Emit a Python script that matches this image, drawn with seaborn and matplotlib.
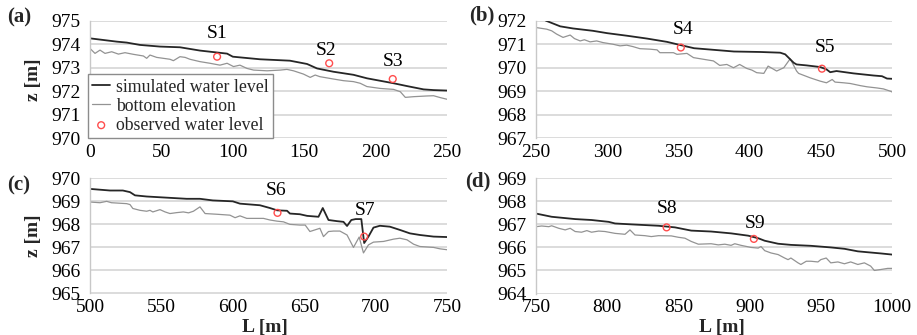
import numpy as np
import pandas as pd
import matplotlib
matplotlib.use("Agg")
import matplotlib.pyplot as plt
import seaborn as sns

# simulated water level, per panel (L [m], z [m])
sim_a_L = [0, 18.7, 25.7, 35, 49, 63, 77, 96, 100, 119, 140, 152, 159, 170.5, 184.5, 194, 212.6, 222, 233.6, 240.6, 250]
sim_a_z = [974.25, 974.11, 974.07, 973.97, 973.9, 973.87, 973.73, 973.6, 973.47, 973.36, 973.3, 973.16, 972.97, 972.83, 972.7, 972.55, 972.34, 972.22, 972.08, 972.05, 972.03]
sim_b_L = [250, 257, 267, 276, 290, 300, 314, 328, 342, 351, 361, 375, 389, 407.5, 421.5, 425, 427, 431, 433, 440, 449.6, 454, 456.6, 461, 473, 487, 493, 496.5, 500]
sim_b_z = [972.25, 972.0, 971.76, 971.67, 971.57, 971.47, 971.36, 971.24, 971.1, 970.97, 970.83, 970.76, 970.69, 970.67, 970.64, 970.57, 970.45, 970.21, 970.14, 970.1, 970.03, 969.93, 969.81, 969.86, 969.76, 969.67, 969.64, 969.54, 969.53]
sim_c_L = [500, 514, 523, 528, 531.5, 539.7, 553.7, 567.7, 577, 586, 600, 605, 619, 626, 631, 638, 640, 647, 652, 660, 663, 667, 673, 677.5, 680, 683, 686, 690, 692, 695, 698.5, 703, 710, 717, 724, 731, 740.6, 750]
sim_c_z = [969.54, 969.47, 969.47, 969.4, 969.26, 969.21, 969.16, 969.11, 969.11, 969.04, 969.0, 968.9, 968.83, 968.71, 968.61, 968.59, 968.47, 968.44, 968.37, 968.33, 968.71, 968.19, 968.14, 968.11, 967.93, 968.19, 968.23, 968.23, 967.19, 967.47, 967.86, 967.94, 967.9, 967.76, 967.61, 967.54, 967.47, 967.45]
sim_d_L = [750, 761, 777.5, 789, 801, 805.5, 817, 836, 847.6, 859, 873, 887, 899, 906, 910.6, 920, 929, 943, 957, 966.6, 976, 983, 992, 1000]
sim_d_z = [967.47, 967.33, 967.23, 967.19, 967.11, 967.04, 967.0, 966.94, 966.87, 966.73, 966.69, 966.61, 966.51, 966.4, 966.29, 966.16, 966.11, 966.07, 966.0, 965.94, 965.83, 965.79, 965.74, 965.69]

# bottom elevation, per panel
bed_a_L = [0, 3.5, 7, 10.5, 15.2, 19.9, 24.5, 30.4, 37.4, 39.7, 42, 46.7, 51.4, 56, 58.4, 63, 66.6, 70, 77, 84, 91, 96, 100.5, 105, 110, 114.6, 124, 133.2, 137.9, 142.5, 149.5, 154.2, 157.7, 161, 170.5, 177.5, 184.5, 189.2, 193.9, 203.3, 212.6, 217.3, 220.8, 226.7, 236, 240.6, 245.3, 250]
bed_a_z = [973.82, 973.61, 973.75, 973.61, 973.68, 973.58, 973.64, 973.57, 973.5, 973.4, 973.54, 973.44, 973.4, 973.36, 973.3, 973.47, 973.44, 973.36, 973.26, 973.19, 973.11, 973.19, 973.05, 973.11, 972.97, 972.9, 972.87, 972.9, 972.93, 972.87, 972.73, 972.59, 972.69, 972.62, 972.52, 972.45, 972.41, 972.34, 972.2, 972.12, 972.08, 971.98, 971.74, 971.77, 971.8, 971.81, 971.73, 971.66]
bed_b_L = [250, 257.5, 261, 264.5, 269, 274, 277, 281, 284, 288, 292.6, 297, 304, 309, 313.7, 318, 323, 330, 335, 337, 346.5, 349, 356, 360.6, 367.6, 374.6, 379, 384, 388.7, 393, 398, 401.6, 405, 410, 413, 419, 424, 428.5, 433, 434.4, 442.6, 449.6, 454, 458, 460, 466, 470.7, 477.7, 482.4, 489.5, 494, 499, 500]
bed_b_z = [971.71, 971.64, 971.57, 971.43, 971.29, 971.39, 971.24, 971.14, 971.19, 971.1, 971.14, 971.07, 971.0, 970.93, 970.96, 970.9, 970.81, 970.79, 970.76, 970.64, 970.64, 970.57, 970.61, 970.43, 970.36, 970.29, 970.1, 970.14, 970.0, 970.14, 969.97, 969.9, 969.79, 969.76, 970.07, 969.86, 970.0, 970.38, 969.86, 969.76, 969.57, 969.43, 969.36, 969.5, 969.39, 969.36, 969.33, 969.24, 969.19, 969.14, 969.1, 969.0, 968.97]
bed_c_L = [500, 507, 511.7, 515, 525.7, 528, 530, 535, 539.7, 542, 544, 549, 552.6, 556, 560.7, 565.4, 569, 572.4, 577, 580.6, 588.8, 598, 601.6, 605, 609.8, 621.5, 626, 631, 635.5, 640, 647, 650.7, 654, 659, 661, 663.5, 667, 670.5, 675, 680, 684.5, 688.5, 691.5, 695, 698.5, 705.6, 712.6, 717, 722, 726.6, 731, 740.6, 745, 750]
bed_c_z = [968.97, 968.94, 969.0, 968.94, 968.9, 968.86, 968.69, 968.61, 968.57, 968.61, 968.54, 968.64, 968.54, 968.47, 968.51, 968.54, 968.5, 968.57, 968.76, 968.47, 968.44, 968.4, 968.29, 968.37, 968.26, 968.26, 968.19, 968.14, 968.11, 968.0, 967.97, 967.97, 967.69, 967.79, 967.83, 967.47, 967.69, 967.71, 967.71, 967.54, 967.0, 967.45, 966.76, 967.11, 967.23, 967.26, 967.36, 967.4, 967.33, 967.14, 967.04, 967.0, 966.94, 966.9]
bed_d_L = [750, 754, 759, 761, 766, 770.5, 774, 777.5, 782, 785.7, 789, 794, 798.5, 805.5, 812.5, 816, 819.5, 826.5, 831, 836, 845, 850, 854.6, 859, 864, 873, 878, 882.6, 887, 889.6, 894, 901, 906, 908, 910.6, 915, 920, 924.6, 927, 929, 934, 936, 939.8, 943, 948, 950, 953.8, 957, 962, 966.6, 971, 976, 980.6, 985, 987.6, 992, 997, 1000]
bed_d_z = [966.9, 966.93, 966.9, 966.94, 966.83, 966.76, 966.83, 966.69, 966.66, 966.73, 966.66, 966.71, 966.69, 966.61, 966.57, 966.76, 966.54, 966.51, 966.47, 966.51, 966.5, 966.44, 966.4, 966.26, 966.14, 966.16, 966.11, 966.14, 966.09, 966.16, 966.09, 966.0, 965.97, 966.04, 965.86, 965.76, 965.69, 965.54, 965.47, 965.54, 965.33, 965.26, 965.4, 965.4, 965.37, 965.47, 965.54, 965.33, 965.37, 965.29, 965.37, 965.26, 965.33, 965.19, 965.0, 965.04, 965.09, 965.09]

# observed water level at the stations
obs_names = ["S1", "S2", "S3", "S4", "S5", "S6", "S7", "S8", "S9"]
obs_L = [89, 167.5, 212, 351.7, 450.8, 631.3, 692, 841.7, 903]
obs_z = [973.47, 973.19, 972.52, 970.86, 969.96, 968.5, 967.47, 966.87, 966.37]

panel_tags = ["(a)", "(b)", "(c)", "(d)"]
panel_xlim = [(0, 250), (250, 500), (500, 750), (750, 1000)]
panel_ylim = [(970, 975), (967, 972), (965, 970), (964, 969)]

sim_L = [sim_a_L, sim_b_L, sim_c_L, sim_d_L]
sim_z = [sim_a_z, sim_b_z, sim_c_z, sim_d_z]
bed_L = [bed_a_L, bed_b_L, bed_c_L, bed_d_L]
bed_z = [bed_a_z, bed_b_z, bed_c_z, bed_d_z]

# station label offsets in pixels (dx, dy)
lbl_off = [(0, 23), (-3, 13), (0, 18), (2, 18), (3, 21), (-1, 22), (1, 26), (0, 19), (1, 15)]

sns.set_theme(style="whitegrid")
plt.rcParams["font.family"] = "serif"
plt.rcParams["font.serif"] = ["Liberation Serif", "Times New Roman", "DejaVu Serif"]

fig = plt.figure(figsize=(9.17, 3.35), dpi=100)
W, H = 917, 335
boxes = [(90, 20.7, 357, 117.6), (536, 20.7, 356, 117.6),
         (90, 178.3, 357, 115.2), (536, 178.3, 356, 115.2)]
axes = []
for (x0, y0, w, h) in boxes:
    axes.append(fig.add_axes([x0 / W, 1 - (y0 + h) / H, w / W, h / H]))

obs_df = pd.DataFrame({"L": obs_L, "z": obs_z, "name": obs_names})

for i, ax in enumerate(axes):
    ax.set_facecolor("white")
    sns.lineplot(x=bed_L[i], y=bed_z[i], ax=ax, color="#939393", lw=0.9,
                 estimator=None, sort=False, label="bottom elevation" if i == 0 else None)
    sns.lineplot(x=sim_L[i], y=sim_z[i], ax=ax, color="#262626", lw=1.3,
                 estimator=None, sort=False, label="simulated water level" if i == 0 else None)
    lo, hi = panel_xlim[i]
    sub = obs_df[(obs_df.L >= lo) & (obs_df.L <= hi)]
    sns.scatterplot(data=sub, x="L", y="z", ax=ax, marker="o", s=24,
                    facecolor="none", edgecolor="#ff4d4d", linewidth=1.0, zorder=5,
                    label="observed water level" if i == 0 else None)
    for _, r in sub.iterrows():
        k = obs_names.index(r["name"])
        ax.annotate(r["name"], (r.L, r.z), xytext=lbl_off[k], textcoords="offset pixels",
                    ha="center", va="center", fontsize=14, color="black")
    ax.set_xlim(*panel_xlim[i])
    ax.set_ylim(*panel_ylim[i])
    ax.set_xticks(np.arange(lo, hi + 1, 50))
    ax.set_yticks(np.arange(panel_ylim[i][0], panel_ylim[i][1] + 1, 1))
    ax.grid(axis="y", color="#d9d9d9", lw=1.3)
    ax.grid(axis="x", visible=False)
    for s in ["top", "right", "bottom"]:
        ax.spines[s].set_visible(False)
    ax.spines["left"].set_visible(True)
    ax.spines["left"].set_color("#c8c8c8")
    ax.spines["left"].set_linewidth(1.0)
    ax.tick_params(axis="both", labelsize=14, length=0, colors="black")
    ax.tick_params(axis="x", pad=4)
    ax.tick_params(axis="y", pad=7)
    ax.set_xlabel("")
    ax.set_ylabel("")
    if ax.get_legend() is not None:
        ax.get_legend().remove()

# legend in panel (a)
ax = axes[0]
h, l = ax.get_legend_handles_labels()
order = [l.index("simulated water level"), l.index("bottom elevation"), l.index("observed water level")]
leg = ax.legend([h[j] for j in order], [l[j] for j in order], loc="lower left",
                bbox_to_anchor=(-0.006, 0.0), borderaxespad=0, fontsize=12.8,
                frameon=True, fancybox=False, framealpha=1, edgecolor="#8c8c8c",
                handlelength=1.0, handletextpad=0.35, labelspacing=0.12, borderpad=0.25)
leg.get_frame().set_linewidth(1.0)
leg.set_zorder(10)

for ax in (axes[0], axes[2]):
    ax.set_ylabel("z [m]", fontsize=14, fontweight="bold")
    ax.yaxis.set_label_coords(-0.134, 0.5)
axes[2].set_xlabel("L [m]", fontsize=14, fontweight="bold")
axes[2].xaxis.set_label_coords(0.49, -0.225)
axes[3].set_xlabel("L [m]", fontsize=14, fontweight="bold")
axes[3].xaxis.set_label_coords(0.522, -0.225)

tag_pos = [(7, 17), (469, 15), (7, 185), (465, 181)]
for t, (px, py) in zip(panel_tags, tag_pos):
    fig.text(px / W, 1 - py / H, t, fontsize=15, fontweight="bold", ha="left", va="center")

fig.savefig("out.png", dpi=100)
